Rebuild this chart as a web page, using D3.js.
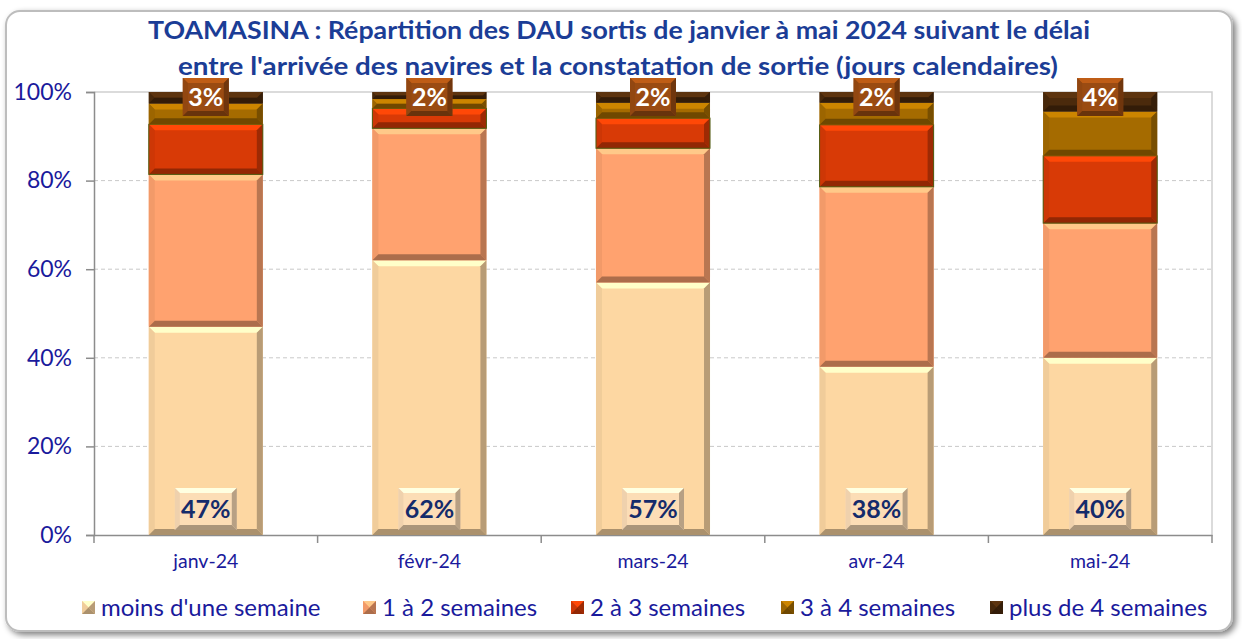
<!DOCTYPE html>
<html>
<head>
<meta charset="utf-8">
<script src="https://cdn.jsdelivr.net/npm/d3@7"></script>
<style>
  html, body { margin: 0; padding: 0; background: #fff; }
  svg { display: block; font-family: Lato, "Open Sans", sans-serif; }
</style>
</head>
<body>
<svg width="1242" height="639"></svg>
<script>
// data (percent of DAU)
const months = ["janv-24", "févr-24", "mars-24", "avr-24", "mai-24"]
const seriesNames = ["moins d'une semaine", "1 à 2 semaines", "2 à 3 semaines", "3 à 4 semaines", "plus de 4 semaines"]
const moinsUneSemaine = [47, 62, 57, 38, 40]
const unADeux = [34.4, 29.8, 30.3, 40.6, 30.4]
const deuxATrois = [11.3, 4.5, 6.8, 14, 15.2]
const troisAQuatre = [4.7, 2.1, 3.5, 5, 10]
const plusDeQuatre = [2.6, 1.6, 2.4, 2.4, 4.4]
const yTicks = [0, 20, 40, 60, 80, 100]

const colors = ["#FDD7A2", "#FFA26F", "#D83A06", "#A56B00", "#4B2A0C"]

const svg = d3.select("svg")
const width = +svg.attr("width")
const height = +svg.attr("height")

const margin = { top: 92, right: 30, bottom: 104, left: 94 }

const defs = svg.append("defs")
const shadow = defs.append("filter").attr("id", "shadow")
  .attr("x", "-5%").attr("y", "-5%").attr("width", "110%").attr("height", "110%")
shadow.append("feGaussianBlur").attr("in", "SourceAlpha").attr("stdDeviation", 3)
shadow.append("feOffset").attr("dx", 3).attr("dy", 3).attr("result", "off")
shadow.append("feComponentTransfer").append("feFuncA").attr("type", "linear").attr("slope", 0.5)
const merge = shadow.append("feMerge")
merge.append("feMergeNode")
merge.append("feMergeNode").attr("in", "SourceGraphic")

// chart frame
svg.append("rect")
  .attr("x", 6).attr("y", 11)
  .attr("width", 1226).attr("height", 620)
  .attr("rx", 14)
  .attr("fill", "#fff")
  .attr("stroke", "#BDBDBD")
  .attr("stroke-width", 2)
  .attr("filter", "url(#shadow)")

// title
const title = svg.append("text")
  .attr("text-anchor", "middle")
  .attr("fill", "#1B3D96")
  .attr("font-weight", "bold")
  .attr("font-size", 25)
title.append("tspan").attr("x", 619).attr("y", 39)
  .attr("textLength", 942).attr("lengthAdjust", "spacingAndGlyphs")
  .text("TOAMASINA : Répartition des DAU sortis de janvier à mai 2024 suivant le délai")
title.append("tspan").attr("x", 618).attr("y", 75)
  .attr("textLength", 880).attr("lengthAdjust", "spacingAndGlyphs")
  .text("entre l'arrivée des navires et la constatation de sortie (jours calendaires)")

const table = months.map((m, i) => ({
  month: m,
  [seriesNames[0]]: moinsUneSemaine[i],
  [seriesNames[1]]: unADeux[i],
  [seriesNames[2]]: deuxATrois[i],
  [seriesNames[3]]: troisAQuatre[i],
  [seriesNames[4]]: plusDeQuatre[i]
}))

const x = d3.scaleBand()
  .domain(months)
  .range([margin.left, width - margin.right])
  .paddingInner(0.49)
  .paddingOuter(0.245)

const y = d3.scaleLinear()
  .domain([0, 100])
  .range([height - margin.bottom, margin.top])

const g = svg.append("g")

// gridlines
g.selectAll("line.grid")
  .data(yTicks.filter(d => d > 0 && d < 100))
  .join("line")
  .attr("class", "grid")
  .attr("x1", margin.left).attr("x2", width - margin.right)
  .attr("y1", d => y(d)).attr("y2", d => y(d))
  .attr("stroke", "#C9C9C9")
  .attr("stroke-dasharray", "4,3")

// plot area top and right edge
g.append("path")
  .attr("d", `M${margin.left},${y(100)}H${width - margin.right}V${y(0)}`)
  .attr("fill", "none")
  .attr("stroke", "#D0D0D0")
  .attr("stroke-width", 1.5)

// y axis
const yAxis = g.append("g")
  .attr("transform", `translate(${margin.left},0)`)
  .call(d3.axisLeft(y).tickValues(yTicks).tickFormat(d => d + "%").tickSize(8).tickPadding(14))
yAxis.select(".domain").attr("stroke", "#8C8C8C").attr("stroke-width", 1.5)
yAxis.selectAll(".tick line").attr("stroke", "#8C8C8C").attr("stroke-width", 1.5)
yAxis.selectAll(".tick text")
  .attr("fill", "#1A1A9C")
  .attr("font-size", 23)
  .attr("font-family", "Lato, sans-serif")

// x axis
const xAxis = g.append("g")
  .attr("transform", `translate(0,${y(0)})`)
  .call(d3.axisBottom(x).tickSize(0).tickPadding(19))
xAxis.select(".domain").attr("stroke", "#8C8C8C").attr("stroke-width", 1.5)
xAxis.selectAll(".tick text")
  .attr("fill", "#1A1A9C")
  .attr("font-size", 19.5)
  .attr("font-family", "Lato, sans-serif")
// band boundary ticks
g.selectAll("line.xtick")
  .data(d3.range(months.length + 1))
  .join("line")
  .attr("class", "xtick")
  .attr("x1", i => margin.left + i * x.step())
  .attr("x2", i => margin.left + i * x.step())
  .attr("y1", y(0)).attr("y2", y(0) + 8)
  .attr("stroke", "#8C8C8C").attr("stroke-width", 1.5)

// draw a bevelled box
function bevel(sel, x0, y0, w, h, fill, b, border) {
  const x1 = x0 + w, y1 = y0 + h
  b = Math.min(b, h / 2, w / 2)
  const c = d3.color(fill)
  sel.append("rect")
    .attr("x", x0).attr("y", y0).attr("width", w).attr("height", h)
    .attr("fill", fill)
  const faces = [
    [[x0, y0], [x1, y0], [x1 - b, y0 + b], [x0 + b, y0 + b], c.brighter(0.6)],
    [[x0, y0], [x0 + b, y0 + b], [x0 + b, y1 - b], [x0, y1], c.darker(0.15)],
    [[x1, y0], [x1, y1], [x1 - b, y1 - b], [x1 - b, y0 + b], c.darker(0.9)],
    [[x0, y1], [x0 + b, y1 - b], [x1 - b, y1 - b], [x1, y1], c.darker(1.1)]
  ]
  faces.forEach(f => {
    sel.append("polygon")
      .attr("points", f.slice(0, 4).map(p => p.join(",")).join(" "))
      .attr("fill", f[4].formatHex())
  })
  if (border) {
    sel.append("rect")
      .attr("x", x0).attr("y", y0).attr("width", w).attr("height", h)
      .attr("fill", "none").attr("stroke", border).attr("stroke-width", 1)
  }
}

const stacked = d3.stack().keys(seriesNames)(table)

const bars = g.append("g")
stacked.forEach((layer, si) => {
  layer.forEach(d => {
    const y0 = y(d[1]), y1 = y(d[0])
    bevel(bars.append("g"), x(d.data.month), y0, x.bandwidth(), y1 - y0,
      colors[si], 6, si === 2 ? "#4E5E12" : null)
  })
})

// data labels: bottom (moins d'une semaine) and top (plus de 4 semaines)
const fmt = v => Math.round(v) + "%"
months.forEach((m, i) => {
  const cx = x(m) + x.bandwidth() / 2
  const lb = g.append("g")
  bevel(lb, cx - 31, 488, 62, 42, "#FCDDB6", 5)
  lb.append("text")
    .attr("x", cx).attr("y", 518)
    .attr("text-anchor", "middle")
    .attr("font-weight", "bold")
    .attr("font-size", 25)
    .attr("fill", "#142B6B")
    .text(fmt(moinsUneSemaine[i]))

  const lt = g.append("g")
  bevel(lt, cx - 23, 78, 46, 38, "#9A4B12", 5)
  lt.append("text")
    .attr("x", cx).attr("y", 106)
    .attr("text-anchor", "middle")
    .attr("font-weight", "bold")
    .attr("font-size", 25)
    .attr("fill", "#fff")
    .text(fmt(plusDeQuatre[i]))
})

// legend
const legendX = [80, 361, 569, 779, 988]
const legend = svg.append("g")
seriesNames.forEach((name, i) => {
  const lg = legend.append("g")
  bevel(lg, legendX[i] + 2, 601, 13, 13, colors[i], 6.5)
  lg.append("text")
    .attr("x", legendX[i] + 21).attr("y", 616)
    .attr("font-size", 24)
    .attr("fill", "#1A1A9C")
    .text(name)
})
</script>
</body>
</html>
